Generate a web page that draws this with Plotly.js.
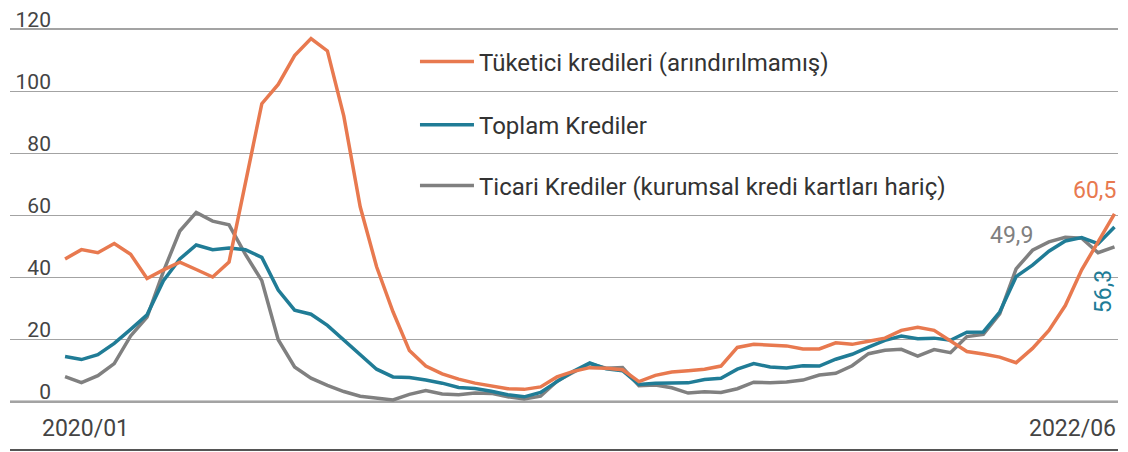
<!DOCTYPE html>
<html>
<head>
<meta charset="utf-8">
<script src="https://cdn.plot.ly/plotly-3.0.1.min.js"></script>
<style>html,body{margin:0;padding:0;background:#fff;}#chart{width:1128px;height:452px;}</style>
</head>
<body>
<div id="chart"></div>
<script>
// Two-weekly observations, January 2020 to June 2022 (% annual change)
const startDate = '2020-01-03';
const stepDays = 14;

const seriesNames = [
  'Tüketici kredileri (arındırılmamış)',
  'Toplam Krediler',
  'Ticari Krediler (kurumsal kredi kartları hariç)'
];

const tuketici = [46, 49, 48, 51, 47.5, 39.7, 42.5, 45, 42.6, 40.2, 45, 70, 96, 102.2, 111.5, 117, 113, 92, 62.8, 43.5,
  29, 16.5, 11.5, 9, 7.3, 6, 5, 4.2, 4, 4.8, 8, 9.8, 11, 10.8, 10.3, 6.5, 8.5, 9.6, 10, 10.5,
  11.5, 17.5, 18.5, 18.3, 18, 17, 17, 19, 18.5, 19.5, 20.5, 23, 24, 23, 19.5, 16.2, 15.4, 14.4, 12.6, 17.2,
  23, 31, 42.5, 51.5, 60.5];

const toplam = [14.6, 13.6, 15.2, 18.8, 23.3, 28, 39, 46, 50.5, 49, 49.5, 49, 46.5, 36, 29.5, 28.2, 24.6, 20, 15.2, 10.5,
  8, 7.8, 7, 6, 4.6, 4.3, 3.4, 2.3, 1.6, 3, 6.5, 9.8, 12.5, 10.6, 10, 5.6, 6, 6.1, 6.1, 7.2,
  7.6, 10.5, 12.3, 11.2, 10.9, 11.6, 11.5, 13.7, 15.3, 17.6, 19.8, 21.2, 20.3, 20.5, 19.8, 22.4, 22.5, 28.9, 40.3, 44,
  48.5, 51.8, 52.9, 50.9, 56.3];

const ticari = [8.1, 6.2, 8.4, 12.3, 21.2, 27.3, 42, 55, 61, 58.2, 57, 47.5, 39, 20, 11.2, 7.6, 5.3, 3.3, 1.8, 1.2,
  0.6, 2.4, 3.6, 2.5, 2.3, 2.8, 2.7, 1.6, 0.9, 1.8, 6.6, 9.5, 12.3, 10.8, 11, 5.2, 5.4, 4.5, 2.8, 3.2,
  3, 4.2, 6.3, 6.1, 6.4, 7, 8.6, 9.2, 11.6, 15.5, 16.6, 16.9, 14.7, 16.8, 15.8, 21, 21.7, 28.3, 42.8, 48.8,
  51.5, 53, 52.7, 48, 49.9];

const yTickVals = [0, 20, 40, 60, 80, 100, 120];
const yTickText = ['\u2007\u20070', '\u200720', '\u200740', '\u200760', '\u200780', '100', '120'];
const xLabels = ['2020/01', '2022/06'];
const endLabels = ['60,5', '49,9', '56,3'];

const colors = {orange: '#E8794F', teal: '#207C96', gray: '#808080'};
const FONT = 'Roboto, "Open Sans", sans-serif';

// build date axis
const DAY = 86400000;
const t0 = new Date(startDate + 'T00:00:00Z').getTime();
const dates = tuketici.map((_, i) => new Date(t0 + i * stepDays * DAY).toISOString().slice(0, 10));
const rangeStart = new Date(t0 - 47 * DAY).toISOString().slice(0, 10);
const rangeEnd = new Date(t0 + 899 * DAY).toISOString().slice(0, 10);

const traces = [
  {x: dates, y: ticari, name: seriesNames[2], legend: 'legend3', mode: 'lines', line: {color: colors.gray, width: 3.5}},
  {x: dates, y: toplam, name: seriesNames[1], legend: 'legend2', mode: 'lines', line: {color: colors.teal, width: 3.5}},
  {x: dates, y: tuketici, name: seriesNames[0], legend: 'legend', mode: 'lines', line: {color: colors.orange, width: 3.5}}
];

const legFont = {family: FONT, size: 24, color: '#333'};
const legBase = {xanchor: 'left', yanchor: 'middle', bgcolor: 'rgba(0,0,0,0)', font: legFont, itemwidth: 54};

const layout = {
  width: 1128, height: 452,
  margin: {l: 10, r: 10, t: 23, b: 44},
  paper_bgcolor: '#fff', plot_bgcolor: '#fff',
  showlegend: true,
  legend: Object.assign({x: 0.3655, y: 0.8987}, legBase),
  legend2: Object.assign({x: 0.3655, y: 0.735}, legBase),
  legend3: Object.assign({x: 0.3655, y: 0.5766}, legBase),
  xaxis: {type: 'date', range: [rangeStart, rangeEnd], showgrid: false, zeroline: false, showticklabels: false, showline: false, fixedrange: true},
  yaxis: {
    range: [-2, 122], tickvals: yTickVals, ticktext: yTickText,
    showgrid: true, gridcolor: '#a3a3a3', gridwidth: 1.5,
    zeroline: false,
    showline: false, ticks: '',
    anchor: 'free', position: 0.037, side: 'left',
    ticklabelshift: -10,
    tickfont: {family: FONT, size: 21, color: '#444'}
  },
  annotations: [
    {xref: 'paper', yref: 'paper', x: 0.027, y: -0.0545, xanchor: 'left', yanchor: 'middle', text: xLabels[0], showarrow: false, font: {family: FONT, size: 23, color: '#444'}},
    {xref: 'paper', yref: 'paper', x: 1.0, y: -0.0545, xanchor: 'right', yanchor: 'middle', text: xLabels[1], showarrow: false, font: {family: FONT, size: 23, color: '#444'}},
    {xref: 'paper', yref: 'paper', x: 1.0, y: 0.566, xanchor: 'right', yanchor: 'middle', text: endLabels[0], showarrow: false, font: {family: FONT, size: 23, color: colors.orange}},
    {xref: 'paper', yref: 'paper', x: 0.925, y: 0.449, xanchor: 'right', yanchor: 'middle', text: endLabels[1], showarrow: false, font: {family: FONT, size: 23, color: colors.gray}},
    {xref: 'paper', yref: 'paper', x: 0.9865, y: 0.301, xanchor: 'center', yanchor: 'middle', text: endLabels[2], textangle: -90, showarrow: false, font: {family: FONT, size: 23, color: colors.teal}}
  ],
  shapes: [
    {type: 'line', xref: 'paper', yref: 'y', x0: 0, x1: 1, y0: 0, y1: 0, layer: 'below', line: {color: '#333', width: 2}},
    {type: 'line', xref: 'paper', yref: 'paper', x0: 0, x1: 1, y0: -0.109, y1: -0.109, line: {color: '#555', width: 2}}
  ]
};

Plotly.newPlot('chart', traces, layout, {displayModeBar: false, staticPlot: true});
</script>
</body>
</html>
